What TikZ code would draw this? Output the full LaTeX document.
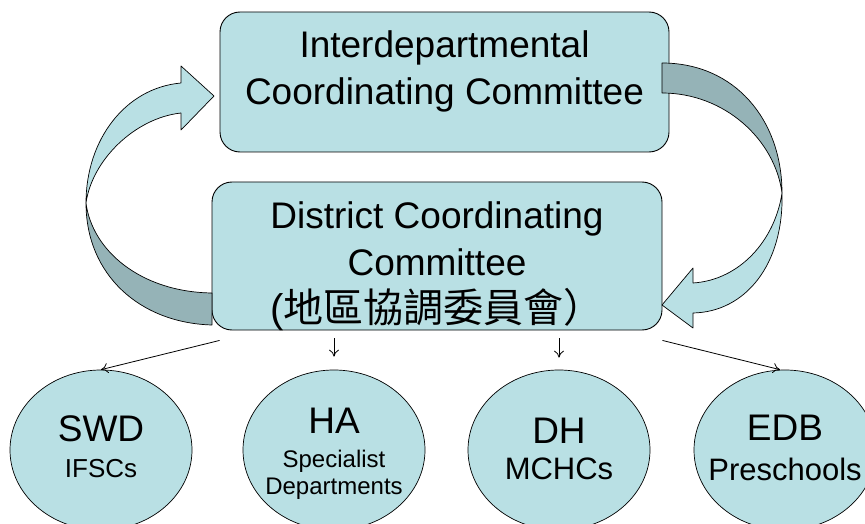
\documentclass[tikz,border=0pt]{standalone}
\usepackage{fontspec}
\setmainfont{Liberation Sans}
\newfontfamily\cjkfont{Noto Sans CJK TC}
\usetikzlibrary{shapes.geometric,arrows.meta,positioning}
\definecolor{paleteal}{RGB}{185,224,228}
\definecolor{shadeteal}{RGB}{149,179,183}
\tikzset{
  committee/.style={draw, fill=paleteal, rounded corners=20pt, line width=0.9pt},
  boxtext/.style={align=center, font=\fontsize{37}{47}\selectfont},
  agency/.style={ellipse, draw, fill=paleteal, minimum width=182pt, minimum height=160pt,
    inner sep=0pt, line width=0.7pt},
  agencytext/.style={align=center, inner sep=0pt},
  band/.style={draw=black, line width=0.7pt, line join=round},
  link/.style={-{To[length=7pt,width=10pt]}, line width=0.8pt}
}

\begin{document}
\begin{tikzpicture}[x=1pt,y=-1pt]
    \useasboundingbox (0,0) rectangle (865,524);

    % Committees
    \node[committee, minimum width=449pt, minimum height=140pt] (idcc) at (444.5,82) {};
    \node[boxtext] (idcc text) at (444.5,71) {Interdepartmental\\Coordinating Committee};
    \node[committee, minimum width=450pt, minimum height=148pt] (dcc) at (437,256) {};
    \node[boxtext] (dcc text) at (437,266)
        {District Coordinating\\Committee\\{\fontsize{40}{43}\selectfont(\cjkfont 地區協調委員會）}};

    % Curved arrow, left (up)
    \filldraw[fill=shadeteal, band] (212,325) .. controls (140,323) and (86,275) .. (86,203)
        .. controls (92,250) and (140,292) .. (212,293) -- cycle;
    \filldraw[fill=paleteal, band] (86,203) .. controls (86,140) and (125,88) .. (181,83)
        -- (181,66) -- (214,96) -- (181,130) -- (181,113)
        .. controls (135,118) and (92,160) .. (86,203) -- cycle;

    % Curved arrow, right (down)
    \filldraw[fill=shadeteal, band] (662,63) .. controls (735,63) and (782,120) .. (782,193)
        .. controls (775,140) and (725,93) .. (662,93) -- cycle;
    \filldraw[fill=paleteal, band] (782,193) .. controls (784,265) and (745,312) .. (693,313)
        -- (693,328) -- (662,305) -- (693,268) -- (693,283)
        .. controls (740,280) and (775,240) .. (782,193) -- cycle;

    % Agencies
    \node[agency] (swd) at (101,450) {};
    \node[agency] (ha) at (334,450) {};
    \node[agency] (dh) at (559,450) {};
    \node[agency] (edb) at (785,450) {};
    \node[agencytext, font=\fontsize{37}{36}\selectfont] (swd text) at (101,447)
        {SWD\\\fontsize{26}{36}\selectfont IFSCs};
    \node[agencytext, font=\fontsize{37}{27}\selectfont] (ha text) at (334,454)
        {HA\\[7pt]\fontsize{24}{27}\selectfont Specialist\\\fontsize{24}{27}\selectfont Departments};
    \node[agencytext, font=\fontsize{37}{36}\selectfont] (dh text) at (559,449)
        {DH\\\fontsize{31}{36}\selectfont MCHCs};
    \node[agencytext, font=\fontsize{37}{40}\selectfont] (edb text) at (785,448)
        {EDB\\\fontsize{31}{40}\selectfont Preschools};

    % Links
    \coordinate (from swd) at ([shift={(8,10)}]dcc.south west);
    \coordinate (from edb) at ([shift={(0,10)}]dcc.south east);
    \draw[link] (from swd) -- (swd.north);
    \draw[link, shorten <=8pt, shorten >=13pt] (dcc.south -| ha.north) -- (ha.north);
    \draw[link, shorten <=8pt, shorten >=12pt] (dcc.south -| dh.north) -- (dh.north);
    \draw[link] (from edb) -- ([xshift=-5pt]edb.north);
\end{tikzpicture}
\end{document}
